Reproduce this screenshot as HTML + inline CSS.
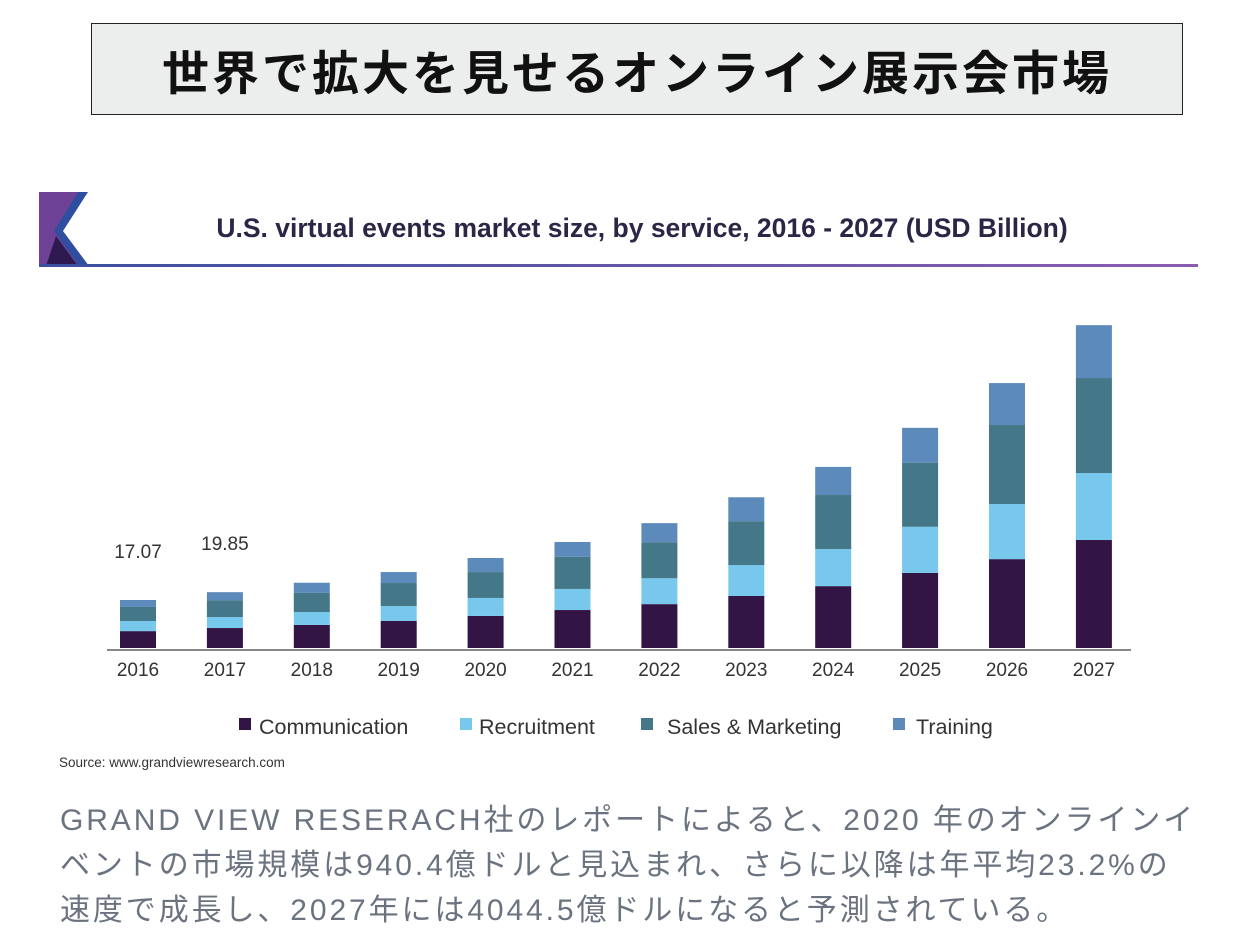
<!DOCTYPE html>
<html><head><meta charset="utf-8"><style>
body{margin:0;width:1252px;height:950px;background:#fff;position:relative;overflow:hidden;font-family:"Liberation Sans","Noto Sans CJK JP",sans-serif}
.abs{position:absolute}
#title-box{left:91px;top:23px;width:1090px;height:90px;background:#eceeee;border:1.5px solid #222;display:flex;align-items:center;justify-content:center;font-size:47px;font-weight:bold;color:#111;font-family:"Noto Sans CJK JP",sans-serif;letter-spacing:3px}
#para{left:60px;top:798px;width:1192px;font-size:30px;line-height:45px;color:#6b7380;font-family:"Liberation Sans","Noto Sans CJK JP",sans-serif;letter-spacing:2.9px;white-space:nowrap}
</style></head><body>
<div id="title-box" class="abs">世界で拡大を見せるオンライン展示会市場</div>
<svg class="abs" style="left:0;top:0" width="1252" height="790">
<defs><linearGradient id="lg" x1="0" x2="1"><stop offset="0" stop-color="#3b4fa0"/><stop offset="1" stop-color="#8a5cb0"/></linearGradient></defs>
<g>
<polygon points="39,192 86,192 60,231 86,266 39,266" fill="#6e4296"/>
<polygon points="78,192 88,192 63,231 89,266 79,266 54,231" fill="#2f4ea0"/>
<polygon points="56,236 78,266 46,266" fill="#2e1a4e"/>
</g>
<rect x="39" y="264" width="1159" height="3" fill="url(#lg)"/>
<text x="642" y="237" text-anchor="middle" font-size="26.5" font-weight="bold" fill="#2d2545" font-family="Liberation Sans, sans-serif">U.S. virtual events market size, by service, 2016 - 2027 (USD Billion)</text>
<line x1="107" y1="650" x2="1131" y2="650" stroke="#888" stroke-width="2"/>
<g id="bars"></g>
<g id="labels"></g>
<g font-size="21.5" fill="#333" font-family="Liberation Sans, sans-serif">
<rect x="239" y="718" width="12" height="12" fill="#321544"/><text x="259" y="734">Communication</text>
<rect x="460" y="718" width="12" height="12" fill="#78c8ee"/><text x="479" y="734">Recruitment</text>
<rect x="641" y="718" width="12" height="12" fill="#447788"/><text x="667" y="734">Sales &amp; Marketing</text>
<rect x="893" y="718" width="12" height="12" fill="#5b8abb"/><text x="916" y="734">Training</text>
</g>
<text x="59" y="767" font-size="13.5" fill="#333" font-family="Liberation Sans, sans-serif">Source: www.grandviewresearch.com</text>
</svg>
<div id="para" class="abs">GRAND VIEW RESERACH社のレポートによると、2020 年のオンラインイ<br>ベントの市場規模は940.4億ドルと見込まれ、さらに以降は年平均23.2%の<br>速度で成長し、2027年には4044.5億ドルになると予測されている。</div>
<script>
const years=["2016","2017","2018","2019","2020","2021","2022","2023","2024","2025","2026","2027"];
const communication=[6.0,7.1,8.2,9.6,11.4,13.5,15.6,18.5,22.0,26.7,31.6,38.4];
const recruitment=[3.6,3.9,4.6,5.3,6.4,7.5,9.2,11.0,13.2,16.4,19.6,23.8];
const sales=[5.0,6.0,6.8,8.2,9.2,11.4,12.8,15.6,19.2,22.8,28.1,33.8];
const training=[2.47,2.85,3.6,3.9,5.0,5.3,6.8,8.5,10.0,12.4,14.9,18.8];
const valueLabels=["17.07","19.85","","","","","","","","","",""];
const NS="http://www.w3.org/2000/svg";
const x=i=>138+i*86.9;
const y=v=>648-v/0.3556;
const series=[[communication,"#321544","communication"],[recruitment,"#78c8ee","recruitment"],[sales,"#447788","sales-marketing"],[training,"#5b8abb","training"]];
const bars=document.getElementById("bars"),labels=document.getElementById("labels");
years.forEach((yr,i)=>{
  let base=0;
  series.forEach(([arr,col,nm])=>{
    const r=document.createElementNS(NS,"rect");
    r.setAttribute("x",x(i)-18);r.setAttribute("width",36);
    r.setAttribute("y",y(base+arr[i]));r.setAttribute("height",y(base)-y(base+arr[i]));
    r.setAttribute("fill",col);
    
    
    bars.appendChild(r);base+=arr[i];
  });
  const t=document.createElementNS(NS,"text");
  t.setAttribute("x",x(i));t.setAttribute("y",676);t.setAttribute("text-anchor","middle");
  t.setAttribute("font-size","19");t.setAttribute("fill","#333");t.setAttribute("font-family","Liberation Sans, sans-serif");
  t.textContent=yr;
  
  
  labels.appendChild(t);
  if(valueLabels[i]){
    const v=document.createElementNS(NS,"text");
    v.setAttribute("x",x(i));v.setAttribute("y",y(base)-42);v.setAttribute("text-anchor","middle");
    v.setAttribute("font-size","19");v.setAttribute("fill","#333");v.setAttribute("font-family","Liberation Sans, sans-serif");
    v.textContent=valueLabels[i];
    
    
    labels.appendChild(v);
  }
});
</script>
</body></html>
